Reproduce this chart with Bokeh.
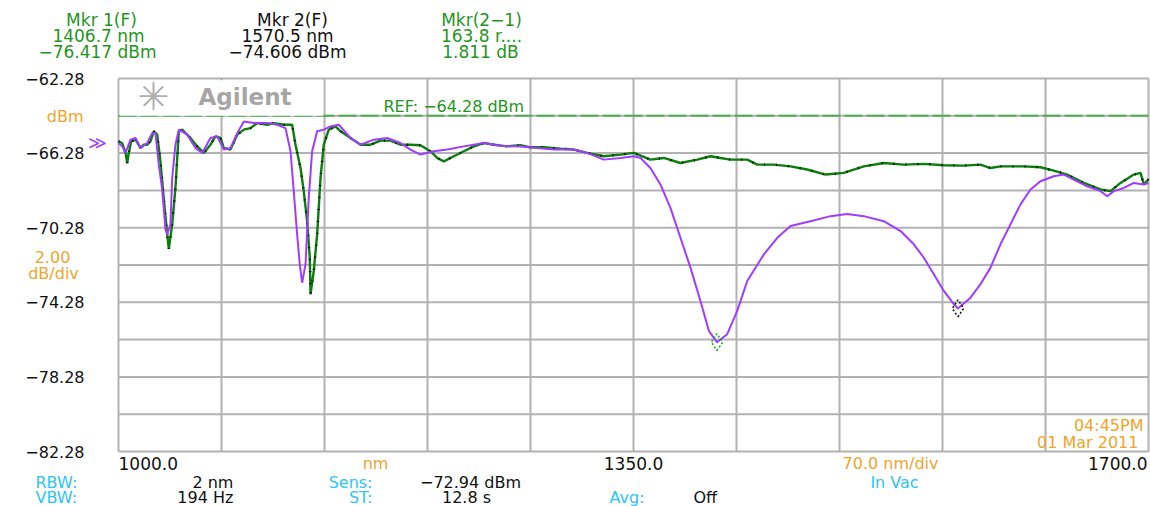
from bokeh.plotting import figure
from bokeh.models import Range1d, Label, BoxAnnotation
from bokeh.core.properties import value
from bokeh.embed import file_html
from bokeh.resources import INLINE

# ---------------- data ----------------
green_nm = [1000.0, 1002.5, 1004.8, 1005.9, 1007.0, 1008.6, 1011.6, 1015.0, 1017.2, 1019.5, 1021.7, 1024.0, 1026.3, 1028.5,
            1030.8, 1033.1, 1034.2, 1036.5, 1038.7, 1041.0, 1043.3, 1048.9, 1053.5, 1058.0, 1062.5, 1065.9, 1069.3, 1071.6,
            1076.1, 1080.7, 1085.2, 1089.7, 1094.3, 1101.1, 1105.5, 1112.3, 1118.0, 1120.3, 1123.7, 1125.9, 1128.2, 1130.0,
            1130.5, 1132.7, 1135.0, 1137.3, 1139.5, 1142.9, 1147.5, 1150.9, 1157.7, 1164.5, 1171.3, 1178.1, 1184.9, 1191.6,
            1198.4, 1205.2, 1212.0, 1216.6, 1221.1, 1227.9, 1234.7, 1241.5, 1248.3, 1255.1, 1264.2, 1273.2, 1280.0, 1289.0,
            1300.4, 1309.4, 1318.5, 1329.8, 1341.2, 1350.2, 1361.5, 1370.6, 1381.9, 1393.3, 1402.3, 1409.1, 1415.9, 1427.3,
            1434.1, 1445.4, 1456.7, 1468.0, 1480.5, 1492.9, 1506.5, 1520.1, 1533.7, 1547.3, 1560.9, 1574.5, 1585.8, 1592.6,
            1599.4, 1615.3, 1626.6, 1635.6, 1644.7, 1656.0, 1667.4, 1674.2, 1681.0, 1690.0, 1694.6, 1696.8, 1700.0]
green_dbm = [-65.65, -65.74, -66.27, -66.81, -66.27, -65.65, -65.56, -66.01, -65.83, -65.83, -65.65, -65.11, -65.29, -66.72,
             -68.75, -70.62, -71.42, -70.09, -68.15, -65.11, -65.02, -65.47, -65.92, -66.27, -65.83, -65.38, -65.47, -66.01,
             -66.09, -65.29, -65.02, -64.94, -64.67, -64.76, -64.67, -64.76, -64.76, -65.83, -67.08, -68.32, -69.93, -71.89,
             -73.85, -72.60, -70.64, -67.61, -65.83, -65.02, -64.85, -65.11, -65.47, -65.83, -65.83, -65.61, -65.61, -65.83,
             -65.83, -65.86, -66.18, -66.54, -66.72, -66.45, -66.18, -65.92, -65.74, -65.83, -65.92, -65.86, -65.97, -65.97,
             -66.04, -66.09, -66.27, -66.45, -66.36, -66.27, -66.63, -66.54, -66.81, -66.63, -66.45, -66.54, -66.63, -66.63,
             -66.90, -66.90, -66.99, -67.16, -67.43, -67.34, -66.99, -66.81, -66.90, -66.86, -66.93, -66.95, -66.90, -67.08,
             -66.99, -66.99, -67.04, -67.22, -67.43, -67.88, -68.23, -68.32, -67.88, -67.43, -67.34, -67.96, -67.68]

purple_nm = [1000.0, 1002.5, 1004.8, 1008.2, 1011.6, 1015.0, 1019.5, 1022.9, 1025.1, 1027.4, 1029.7, 1031.9, 1033.1, 1035.3,
             1036.5, 1038.7, 1041.0, 1046.7, 1052.3, 1056.9, 1062.5, 1067.1, 1071.6, 1076.1, 1080.7, 1085.2, 1092.0, 1101.1,
             1107.9, 1113.5, 1116.9, 1119.1, 1121.4, 1123.2, 1124.8, 1127.1, 1129.3, 1131.6, 1135.0, 1139.5, 1144.1, 1149.7,
             1157.7, 1164.5, 1173.5, 1182.6, 1191.6, 1198.4, 1205.2, 1214.3, 1223.4, 1234.7, 1248.3, 1259.6, 1273.2, 1284.5,
             1295.8, 1309.4, 1318.5, 1329.8, 1341.2, 1350.2, 1354.8, 1361.5, 1368.3, 1375.1, 1381.9, 1388.7, 1395.5, 1401.2,
             1406.7, 1413.7, 1420.5, 1427.3, 1438.6, 1447.7, 1456.7, 1470.3, 1483.9, 1495.2, 1506.5, 1520.1, 1531.5, 1540.5,
             1547.3, 1554.1, 1560.9, 1567.7, 1570.5, 1579.0, 1585.8, 1592.6, 1599.4, 1606.2, 1613.0, 1619.8, 1626.6, 1635.6,
             1642.4, 1649.2, 1658.3, 1667.4, 1671.9, 1676.4, 1683.2, 1690.0, 1696.8, 1700.0]
purple_dbm = [-65.74, -65.92, -66.27, -65.56, -65.47, -66.01, -65.74, -65.21, -65.21, -66.90, -68.23, -70.37, -70.64, -70.10,
              -67.61, -65.83, -65.02, -65.29, -66.01, -66.27, -65.47, -65.38, -66.09, -66.01, -65.21, -64.58, -64.67, -64.67,
              -64.76, -64.94, -66.18, -68.32, -70.64, -72.24, -73.23, -72.24, -68.68, -66.18, -65.11, -65.02, -64.85, -64.76,
              -65.47, -65.83, -65.56, -65.47, -65.74, -66.09, -66.36, -66.18, -66.09, -65.92, -65.74, -65.88, -65.92, -66.01,
              -66.09, -66.09, -66.27, -66.63, -66.54, -66.45, -66.54, -67.08, -67.96, -69.22, -70.82, -72.42, -74.21, -75.81,
              -76.42, -75.99, -74.74, -73.14, -71.71, -70.82, -70.19, -69.93, -69.66, -69.54, -69.66, -69.93, -70.46, -71.17,
              -71.89, -72.78, -73.67, -74.38, -74.61, -74.03, -73.31, -72.42, -71.17, -70.10, -69.03, -68.23, -67.79, -67.52,
              -67.43, -67.70, -68.06, -68.32, -68.59, -68.32, -68.15, -67.88, -67.96, -67.88]

marker_nm = [1406.7, 1570.5]
marker_dbm = [-76.417, -74.606]
marker_colors = ["#1f9e1f", "#111111"]
ref_dbm = -64.28

x_ticks = [1000, 1070, 1140, 1210, 1280, 1350, 1420, 1490, 1560, 1630, 1700]
y_ticks = [-82.28, -80.28, -78.28, -76.28, -74.28, -72.28, -70.28, -68.28, -66.28, -64.28, -62.28]
y_label_ticks = [-82.28, -78.28, -74.28, -70.28, -66.28, -62.28]
y_labels = ["\u221282.28", "\u221278.28", "\u221274.28", "\u221270.28", "\u221266.28", "\u221262.28"]

# ---------------- colours / fonts ----------------
GREEN_TXT = "#1e961e"
ORANGE = "#f0a42c"
CYAN = "#2cc4f4"
BLACK = "#111111"
GRID = "#b2b2b2"
FONT = "DejaVu Sans"
FS = "16px"

W, H = 1150, 506
# chart area in page pixels: x 118..1148, y 78..451
X0, X1, PX0, PX1 = x_ticks[0], x_ticks[-1], 118.0, 1148.0
Y0, Y1, PY0, PY1 = y_ticks[-1], y_ticks[0], 78.0, 451.0


def X(px):
    return X0 + (px - PX0) * (X1 - X0) / (PX1 - PX0)


def Y(py):
    return Y0 + (py - PY0) * (Y1 - Y0) / (PY1 - PY0)


p = figure(width=W, height=H, x_range=Range1d(X(0), X(W)), y_range=Range1d(Y(H), Y(0)),
           output_backend="svg", toolbar_location=None,
           min_border=0, min_border_left=0, min_border_right=0, min_border_top=0, min_border_bottom=0)
p.outline_line_color = None
p.background_fill_color = "white"
p.border_fill_color = "white"
p.axis.visible = False
p.grid.visible = False

# grid
n_x, n_y = len(x_ticks), len(y_ticks)
p.segment(x0=x_ticks, y0=[Y1] * n_x, x1=x_ticks, y1=[Y0] * n_x, line_color=GRID, line_width=2)
p.segment(x0=[X0] * n_y, y0=y_ticks, x1=[X1] * n_y, y1=y_ticks, line_color=GRID, line_width=2)

# y tick labels
p.text(x=[X(84)] * len(y_label_ticks), y=y_label_ticks, text=y_labels, text_align="right",
       text_baseline="middle", text_font=value(FONT), text_font_size="16px", text_color=BLACK)

# logo box + reference line
p.add_layout(BoxAnnotation(left=X0 + 0.8, right=1139.2, top=Y0 - 0.1, bottom=ref_dbm, fill_color="white",
                           fill_alpha=1.0, line_color=None))
p.line([X0, X1], [ref_dbm, ref_dbm], line_color="#4caf50", line_width=2, line_dash="18 4")

# traces
p.line(green_nm, green_dbm, line_color="#0b7d0b", line_width=2.4)
p.line(green_nm, green_dbm, line_color="#000000", line_width=2.4, line_dash="1 11")
p.line(purple_nm, purple_dbm, line_color="#a03cff", line_width=2)
p.scatter(marker_nm, marker_dbm, marker="diamond", size=17, fill_color=None, line_color=marker_colors,
          line_width=1.5, line_dash="2 2")


def lab(text, px, py, color=BLACK, align="left", size=FS, style="normal", font=FONT):
    p.add_layout(Label(x=X(px), y=Y(py), text=text, text_color=color, text_align=align,
                       text_baseline="middle", text_font=font, text_font_size=size,
                       text_font_style=style))


# logo
lab("\u2733", 153, 96, color="#b0b0b0", align="center", size="38px")
lab("Agilent", 198, 96, color="#a6a6a6", size="23px", style="bold")
lab("REF: \u221264.28 dBm", 383, 106, color=GREEN_TXT, size="16px")

# header
HS = "17px"
lab("Mkr 1(F)", 101, 19, color=GREEN_TXT, align="center", size=HS)
lab("1406.7 nm", 98, 35, color=GREEN_TXT, align="center", size=HS)
lab("\u221276.417 dBm", 97, 51, color=GREEN_TXT, align="center", size=HS)
lab("Mkr 2(F)", 292, 19, color=BLACK, align="center", size=HS)
lab("1570.5 nm", 287, 35, color=BLACK, align="center", size=HS)
lab("\u221274.606 dBm", 287, 51, color=BLACK, align="center", size=HS)
lab("Mkr(2\u22121)", 481, 19, color=GREEN_TXT, align="center", size=HS)
lab("163.8 r....", 481, 35, color=GREEN_TXT, align="center", size=HS)
lab("1.811 dB", 480, 51, color=GREEN_TXT, align="center", size=HS)

# left side
lab("dBm", 83, 116, color=ORANGE, align="right")
lab("\u226b", 97, 142, color="#a03cff", align="center", size="18px")
lab("2.00", 52, 256, color=ORANGE, align="center")
lab("dB/div", 53, 273, color=ORANGE, align="center")

# timestamp
lab("04:45PM", 1143, 425, color=ORANGE, align="right")
lab("01  Mar 2011", 1143, 442, color=ORANGE, align="right")

# bottom
lab("1000.0", 118, 463, align="left", size="17px")
lab("nm", 375, 463, color=ORANGE, align="center")
lab("1350.0", 633, 463, align="center", size="17px")
lab("70.0 nm/div", 890, 463, color=ORANGE, align="center")
lab("1700.0", 1147, 463, align="right", size="17px")

lab("RBW:", 35, 482, color=CYAN)
lab("2  nm", 238, 482, align="right")
lab("Sens:", 372, 482, color=CYAN, align="right")
lab("\u221272.94 dBm", 470, 482, align="center")
lab("In Vac", 894, 482, color=CYAN, align="center")

lab("VBW:", 35, 497, color=CYAN)
lab("194  Hz", 238, 497, align="right")
lab("ST:", 372, 497, color=CYAN, align="right")
lab("12.8 s", 466, 497, align="center")
lab("Avg:", 609, 497, color=CYAN)
lab("Off", 693, 497)

open("out.html", "w").write(file_html(p, INLINE))
